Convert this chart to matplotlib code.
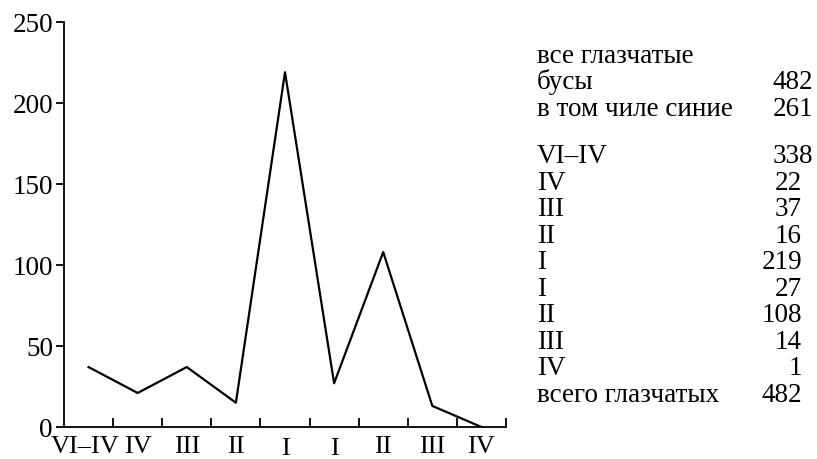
import numpy as np
import matplotlib.pyplot as plt
from matplotlib.transforms import ScaledTranslation

plt.rcParams['font.family'] = ['Liberation Serif', 'DejaVu Serif']

periods = ['VI–IV', 'IV', 'III', 'II', 'I', 'I', 'II', 'III', 'IV']
beads = [37, 21, 37, 15, 219, 27, 108, 13, 0]

head_labels = ['все глазчатые', 'бусы', 'в том чиле синие']
head_counts = ['', '482', '261']
table_labels = ['VI–IV', 'IV', 'III', 'II', 'I', 'I', 'II', 'III', 'IV', 'всего глазчатых']
table_counts = ['338', '22', '37', '16', '219', '27', '108', '14', '1', '482']

W, H = 817, 460
fig = plt.figure(figsize=(W / 100, H / 100), dpi=100)
ax = fig.add_axes([64 / W, (H - 428) / H, (506 - 64) / W, (428 - 23) / H])

x = np.arange(len(beads)) + 0.5
ax.plot(x, beads, color='black', lw=1.6)

ax.set_xlim(0, len(beads))
ax.set_ylim(0, 250)
ax.spines['top'].set_visible(False)
ax.spines['right'].set_visible(False)
for s in ['left', 'bottom']:
    ax.spines[s].set_linewidth(1.3)

ax.set_yticks([0, 50, 100, 150, 200, 250])
ax.tick_params(axis='y', direction='out', length=6, width=1.3, pad=2, labelsize=19.5)

ax.set_xticks(np.arange(1, len(beads) + 1))
ax.set_xticklabels([])
ax.tick_params(axis='x', which='major', direction='in', length=6.5, width=1.3)
ax.set_xticks(x, minor=True)
ax.set_xticklabels(periods, minor=True)
ax.tick_params(axis='x', which='minor', length=0, pad=5.5, labelsize=19)
for t, lab in zip(ax.xaxis.get_minor_ticks(), periods):
    if lab == 'I':
        t.set_pad(7.5)
first = ax.xaxis.get_minor_ticks()[0].label1
first.set_transform(first.get_transform() + ScaledTranslation(-0.03, 0, fig.dpi_scale_trans))

# legend table on the right
def px(xp, yp):
    return xp / W, 1 - yp / H

for i, (lab, cnt) in enumerate(zip(head_labels, head_counts)):
    yb = 63 + 26.3 * i
    fig.text(*px(537, yb), lab, fontsize=19.5, va='baseline', ha='left')
    if cnt:
        fig.text(*px(813, yb), cnt, fontsize=19.5, va='baseline', ha='right')

for i, (lab, cnt) in enumerate(zip(table_labels, table_counts)):
    yb = 163 + 26.55 * i
    fig.text(*px(537, yb), lab, fontsize=19.5, va='baseline', ha='left')
    xr = 813 if i == 0 else 802
    fig.text(*px(xr, yb), cnt, fontsize=19.5, va='baseline', ha='right')

fig.savefig('out.png', dpi=100)
